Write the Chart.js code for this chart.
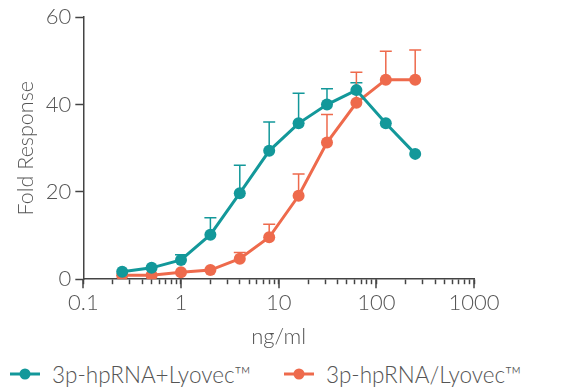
<!DOCTYPE html>
<html>
<head>
<meta charset="utf-8">
<script src="https://cdn.jsdelivr.net/npm/chart.js@4"></script>
<style>
  html, body { margin: 0; padding: 0; background: #fff; }
  #page { position: relative; width: 566px; height: 388px; }
  #wrap { position: absolute; left: 0; top: 0; width: 566px; height: 354px; }
  #legend { position: absolute; left: 0; top: 360px; width: 566px; height: 28px;
            display: flex; align-items: center; padding-left: 10px; box-sizing: border-box; gap: 33px;
            font-family: Lato, "Open Sans", sans-serif; font-size: 22.5px; font-weight: 300; color: #555; }
  #legend .item { display: flex; align-items: center; white-space: nowrap; }
  #legend canvas { margin-right: 12px; }
</style>
</head>
<body>
<div id="page">
  <div id="wrap"><canvas id="foldChart"></canvas></div>
  <div id="legend"></div>
</div>
<script>
// doses (ng/ml)
const doses = [0.25, 0.5, 1, 2, 4, 8, 16, 31.25, 62.5, 125, 250];

// 3p-hpRNA+Lyovec
const plusValues = [1.7, 2.6, 4.4, 10.2, 19.7, 29.4, 35.7, 40.0, 43.3, 35.7, 28.7];
const plusErrors = [0, 0, 1.2, 3.9, 6.4, 6.6, 6.9, 3.6, 1.7, 0, 0];

// 3p-hpRNA/Lyovec
const slashValues = [0.9, 0.9, 1.6, 2.1, 4.7, 9.6, 19.1, 31.3, 40.4, 45.7, 45.7];
const slashErrors = [0, 0, 0, 0, 1.4, 3.0, 5.0, 6.4, 7.0, 6.5, 6.8];

const xMajorTicks = [0.1, 1, 10, 100, 1000];
const yTicks = [0, 20, 40, 60];

const teal = '#13989a';
const orange = '#ee6a4c';
const textColor = '#555555';
const axisColor = '#444444';
const fontFamily = 'Lato, "Open Sans", sans-serif';

function toPoints(xs, ys) {
    return xs.map((x, i) => ({ x: x, y: ys[i] }));
}

// little line + dot marker used in the legend
function legendMarker(color) {
    const c = document.createElement('canvas');
    c.width = 30;
    c.height = 12;
    const ctx = c.getContext('2d');
    ctx.strokeStyle = color;
    ctx.lineWidth = 3;
    ctx.beginPath();
    ctx.moveTo(0, 6);
    ctx.lineTo(30, 6);
    ctx.stroke();
    ctx.fillStyle = color;
    ctx.beginPath();
    ctx.arc(15, 6, 5.5, 0, Math.PI * 2);
    ctx.fill();
    return c;
}

// upper error bars
const errorBars = {
    id: 'errorBars',
    beforeDatasetsDraw(chart) {
        const ctx = chart.ctx;
        const yScale = chart.scales.y;
        chart.data.datasets.forEach((ds, di) => {
            const meta = chart.getDatasetMeta(di);
            ctx.save();
            ctx.strokeStyle = ds.borderColor;
            ctx.lineWidth = 1.5;
            meta.data.forEach((pt, i) => {
                const err = ds.errors[i];
                if (!err) return;
                const yTop = yScale.getPixelForValue(ds.data[i].y + err);
                ctx.beginPath();
                ctx.moveTo(pt.x, pt.y);
                ctx.lineTo(pt.x, yTop);
                ctx.moveTo(pt.x - 6, yTop);
                ctx.lineTo(pt.x + 6, yTop);
                ctx.stroke();
            });
            ctx.restore();
        });
    }
};

// longer tick marks at the decades
const majorTicks = {
    id: 'majorTicks',
    afterDraw(chart) {
        const ctx = chart.ctx;
        const xScale = chart.scales.x;
        const yBottom = chart.chartArea.bottom;
        ctx.save();
        ctx.strokeStyle = axisColor;
        ctx.lineWidth = 1.5;
        xMajorTicks.forEach(v => {
            const px = Math.round(xScale.getPixelForValue(v));
            ctx.beginPath();
            ctx.moveTo(px, yBottom);
            ctx.lineTo(px, yBottom + 9);
            ctx.stroke();
        });
        ctx.restore();
    }
};

// html legend built from the datasets
const htmlLegend = {
    id: 'htmlLegend',
    afterUpdate(chart) {
        const box = document.getElementById('legend');
        box.innerHTML = '';
        chart.data.datasets.forEach(ds => {
            const item = document.createElement('div');
            item.className = 'item';
            item.appendChild(legendMarker(ds.borderColor));
            const label = document.createElement('span');
            label.textContent = ds.label;
            item.appendChild(label);
            box.appendChild(item);
        });
    }
};

new Chart(document.getElementById('foldChart'), {
    type: 'line',
    data: {
        datasets: [{
            label: '3p-hpRNA+Lyovec™',
            data: toPoints(doses, plusValues),
            errors: plusErrors,
            borderColor: teal,
            backgroundColor: teal,
            borderWidth: 3,
            pointRadius: 6,
            pointHoverRadius: 6,
            pointBorderWidth: 0,
            tension: 0
        }, {
            label: '3p-hpRNA/Lyovec™',
            data: toPoints(doses, slashValues),
            errors: slashErrors,
            borderColor: orange,
            backgroundColor: orange,
            borderWidth: 3,
            pointRadius: 6,
            pointHoverRadius: 6,
            pointBorderWidth: 0,
            tension: 0
        }]
    },
    options: {
        responsive: true,
        maintainAspectRatio: false,
        animation: false,
        layout: {
            padding: { left: 13, right: 92, top: 10, bottom: 2 }
        },
        plugins: {
            legend: { display: false },
            tooltip: { enabled: false }
        },
        scales: {
            x: {
                type: 'logarithmic',
                min: 0.1,
                max: 1000,
                border: { color: axisColor, width: 1.5 },
                grid: {
                    drawOnChartArea: false,
                    tickLength: 5,
                    tickColor: axisColor,
                    tickWidth: 1.5
                },
                ticks: {
                    autoSkip: false,
                    maxRotation: 0,
                    color: textColor,
                    padding: 6,
                    font: { family: fontFamily, size: 22, weight: 300 },
                    callback: function(value) {
                        return xMajorTicks.includes(value) ? String(value) : '';
                    }
                },
                afterBuildTicks(scale) {
                    const t = [];
                    for (let d = 0.1; d < 1000; d *= 10) {
                        for (let k = 1; k < 10; k++) t.push({ value: +(d * k).toPrecision(3) });
                    }
                    t.push({ value: 1000 });
                    scale.ticks = t;
                },
                title: {
                    display: true,
                    text: 'ng/ml',
                    color: textColor,
                    font: { family: fontFamily, size: 22, weight: 300 },
                    padding: { top: 1, bottom: 2 }
                }
            },
            y: {
                min: 0,
                max: 60,
                border: { color: axisColor, width: 1.5 },
                grid: {
                    drawOnChartArea: false,
                    tickLength: 8,
                    tickColor: axisColor,
                    tickWidth: 1.5
                },
                afterBuildTicks(scale) {
                    scale.ticks = yTicks.map(v => ({ value: v }));
                },
                ticks: {
                    color: textColor,
                    padding: 4,
                    font: { family: fontFamily, size: 22, weight: 300 }
                },
                title: {
                    display: true,
                    text: 'Fold Response',
                    color: textColor,
                    font: { family: fontFamily, size: 21.5, weight: 300 },
                    padding: { top: 0, bottom: 3 }
                }
            }
        }
    },
    plugins: [errorBars, majorTicks, htmlLegend]
});
</script>
</body>
</html>
